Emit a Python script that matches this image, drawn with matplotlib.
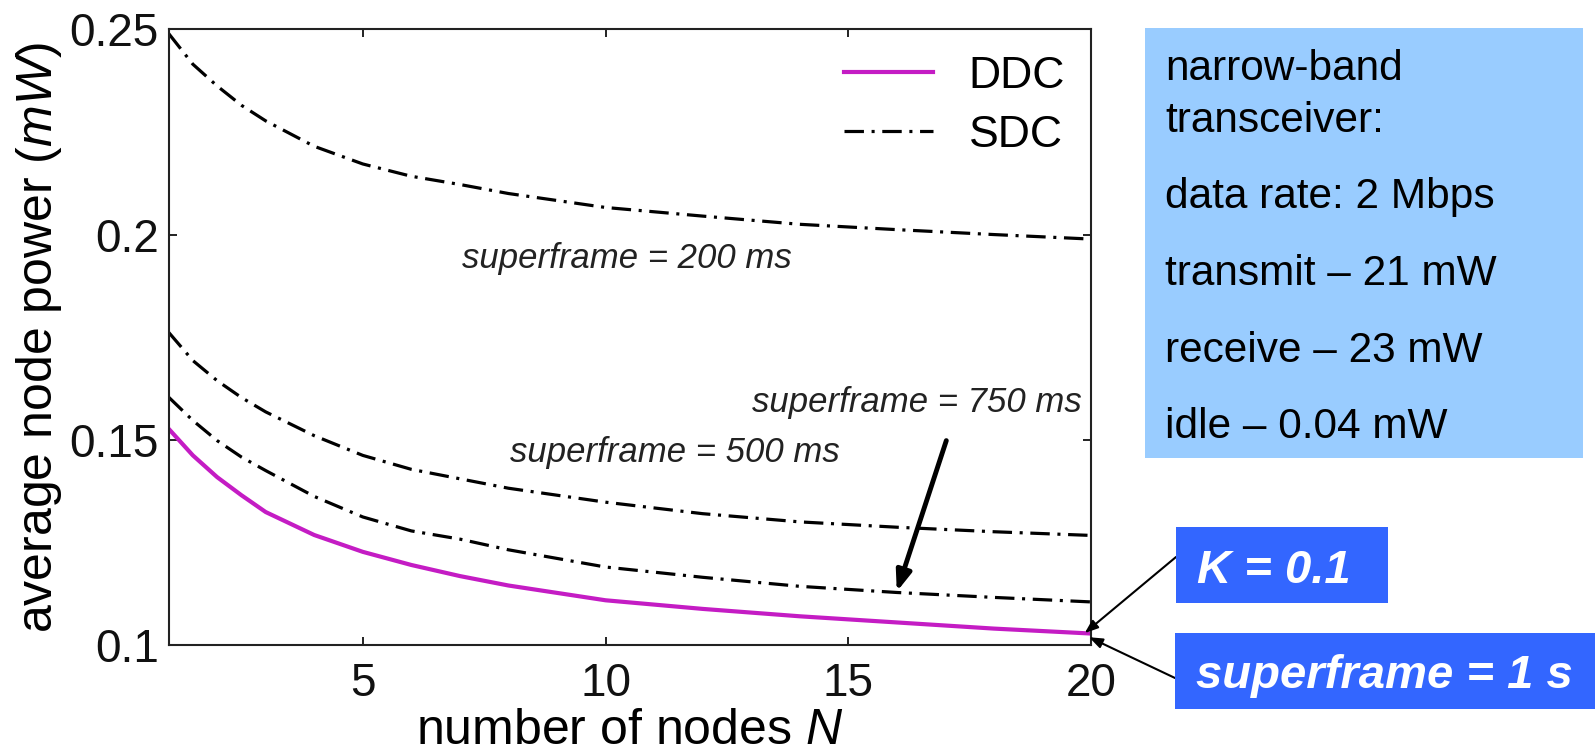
import matplotlib
matplotlib.use("Agg")
import matplotlib.pyplot as plt
from matplotlib.patches import Rectangle

# --- data ---
nodes = [1, 1.5, 2, 2.5, 3, 4, 5, 6, 7, 8, 10, 12, 14, 16, 18, 20]
ddc = [0.1527, 0.1462, 0.1409, 0.1365, 0.1324, 0.1268, 0.1227, 0.1195,
       0.1168, 0.1145, 0.1109, 0.1088, 0.1070, 0.1055, 0.1040, 0.1028]
sdc_200 = [0.2490, 0.2415, 0.2362, 0.2315, 0.2277, 0.2215, 0.2172, 0.2142,
           0.2122, 0.2100, 0.2066, 0.2045, 0.2025, 0.2012, 0.2000, 0.1989]
sdc_500 = [0.1762, 0.1693, 0.1644, 0.1603, 0.1568, 0.1510, 0.1462, 0.1428,
           0.1405, 0.1382, 0.1348, 0.1320, 0.1300, 0.1287, 0.1276, 0.1267]
sdc_750 = [0.1604, 0.1547, 0.1498, 0.1458, 0.1425, 0.1362, 0.1312, 0.1278,
           0.1258, 0.1232, 0.1190, 0.1165, 0.1143, 0.1128, 0.1116, 0.1105]

x_ticks = [5, 10, 15, 20]
y_ticks = [0.1, 0.15, 0.2, 0.25]
y_tick_labels = ["0.1", "0.15", "0.2", "0.25"]

info_lines = ["narrow-band", "transceiver:", "data rate: 2 Mbps",
              "transmit \u2013 21 mW", "receive \u2013 23 mW", "idle \u2013 0.04 mW"]

# --- style ---
plt.rcParams["font.family"] = ["Liberation Sans", "DejaVu Sans"]
plt.rcParams["mathtext.fontset"] = "custom"
plt.rcParams["mathtext.rm"] = "Liberation Sans"
plt.rcParams["mathtext.it"] = "Liberation Sans:italic"
plt.rcParams["lines.scale_dashes"] = False

W, H = 1595, 756
fig = plt.figure(figsize=(W / 100, H / 100), dpi=100)
ax = fig.add_axes([0.1057, 0.1468, 0.5783, 0.8144])

dashdot = (0, (14, 5.5, 2.2, 5.5))
ddc_color = "#c41cc4"

ax.plot(nodes, sdc_200, color="black", lw=2.3, linestyle=dashdot, label="SDC")
ax.plot(nodes, sdc_500, color="black", lw=2.3, linestyle=dashdot)
ax.plot(nodes, sdc_750, color="black", lw=2.3, linestyle=dashdot)
ax.plot(nodes, ddc, color=ddc_color, lw=3.0, label="DDC")

ax.set_xlim(1, 20)
ax.set_ylim(0.1, 0.25)
ax.set_xticks(x_ticks)
ax.set_yticks(y_ticks)
ax.set_yticklabels(y_tick_labels)
ax.tick_params(direction="in", length=6, width=1.3, top=True, right=True,
               labelsize=33, colors="#111111")
ax.tick_params(axis="x", pad=12)
ax.tick_params(axis="y", pad=7)
for sp in ax.spines.values():
    sp.set_linewidth(1.5)
    sp.set_color("#222222")

ax.set_xlabel(r"number of nodes $\mathit{N}$", fontsize=36, labelpad=2)
ax.set_ylabel(r"average node power ($\mathit{mW}$)", fontsize=36, labelpad=4)

h, l = ax.get_legend_handles_labels()
ax.legend([h[1], h[0]], [l[1], l[0]], loc="upper right", frameon=False,
          fontsize=32, handlelength=2.0, handletextpad=0.8, labelspacing=0.4,
          borderpad=0, borderaxespad=0, bbox_to_anchor=(0.972, 0.957))

# curve annotations
note_kw = dict(fontsize=25, style="italic", color="#222222", va="baseline", ha="left")
ax.text(7.04, 0.1919, "superframe = 200 ms", **note_kw)
ax.text(8.03, 0.1445, "superframe = 500 ms", **note_kw)
ax.text(13.02, 0.1567, "superframe = 750 ms", **note_kw)
ax.annotate("", xy=(16.0, 0.1130), xytext=(17.02, 0.1498),
            arrowprops=dict(arrowstyle="-|>,head_length=1.2,head_width=0.45",
                            color="black", lw=3.5, shrinkA=0, shrinkB=0))

# info box on the right
fig.add_artist(Rectangle((1145 / W, 1 - 458 / H), 438 / W, 430 / H,
                         transform=fig.transFigure, facecolor="#99ccff",
                         edgecolor="none"))
baselines = [80, 132, 208, 285, 362, 438]
for txt, yb in zip(info_lines, baselines):
    fig.text(1165 / W, 1 - yb / H, txt, fontsize=30.5, color="black",
             va="baseline", ha="left")

# K and superframe boxes
box_color = "#3366ff"
fig.add_artist(Rectangle((1176 / W, 1 - 603 / H), 212 / W, 76 / H,
                         transform=fig.transFigure, facecolor=box_color,
                         edgecolor="none"))
fig.add_artist(Rectangle((1175 / W, 1 - 709 / H), 420 / W, 76 / H,
                         transform=fig.transFigure, facecolor=box_color,
                         edgecolor="none"))
fig.text(1197 / W, 1 - 583 / H, "K = 0.1", fontsize=34, color="white",
         fontweight="bold", style="italic", va="baseline", ha="left")
fig.text(1196 / W, 1 - 688 / H, "superframe = 1 s", fontsize=34, color="white",
         fontweight="bold", style="italic", va="baseline", ha="left")

arrow_kw = dict(arrowstyle="-|>,head_length=0.8,head_width=0.3", color="black",
                lw=1.5, shrinkA=0, shrinkB=0)
ax.annotate("", xy=(19.87, 0.1029), xycoords="data",
            xytext=(1176, H - 557), textcoords="figure pixels",
            arrowprops=arrow_kw, annotation_clip=False)
ax.annotate("", xy=(19.96, 0.1019), xycoords="data",
            xytext=(1175, H - 678), textcoords="figure pixels",
            arrowprops=arrow_kw, annotation_clip=False)

fig.savefig("out.png", dpi=100)
